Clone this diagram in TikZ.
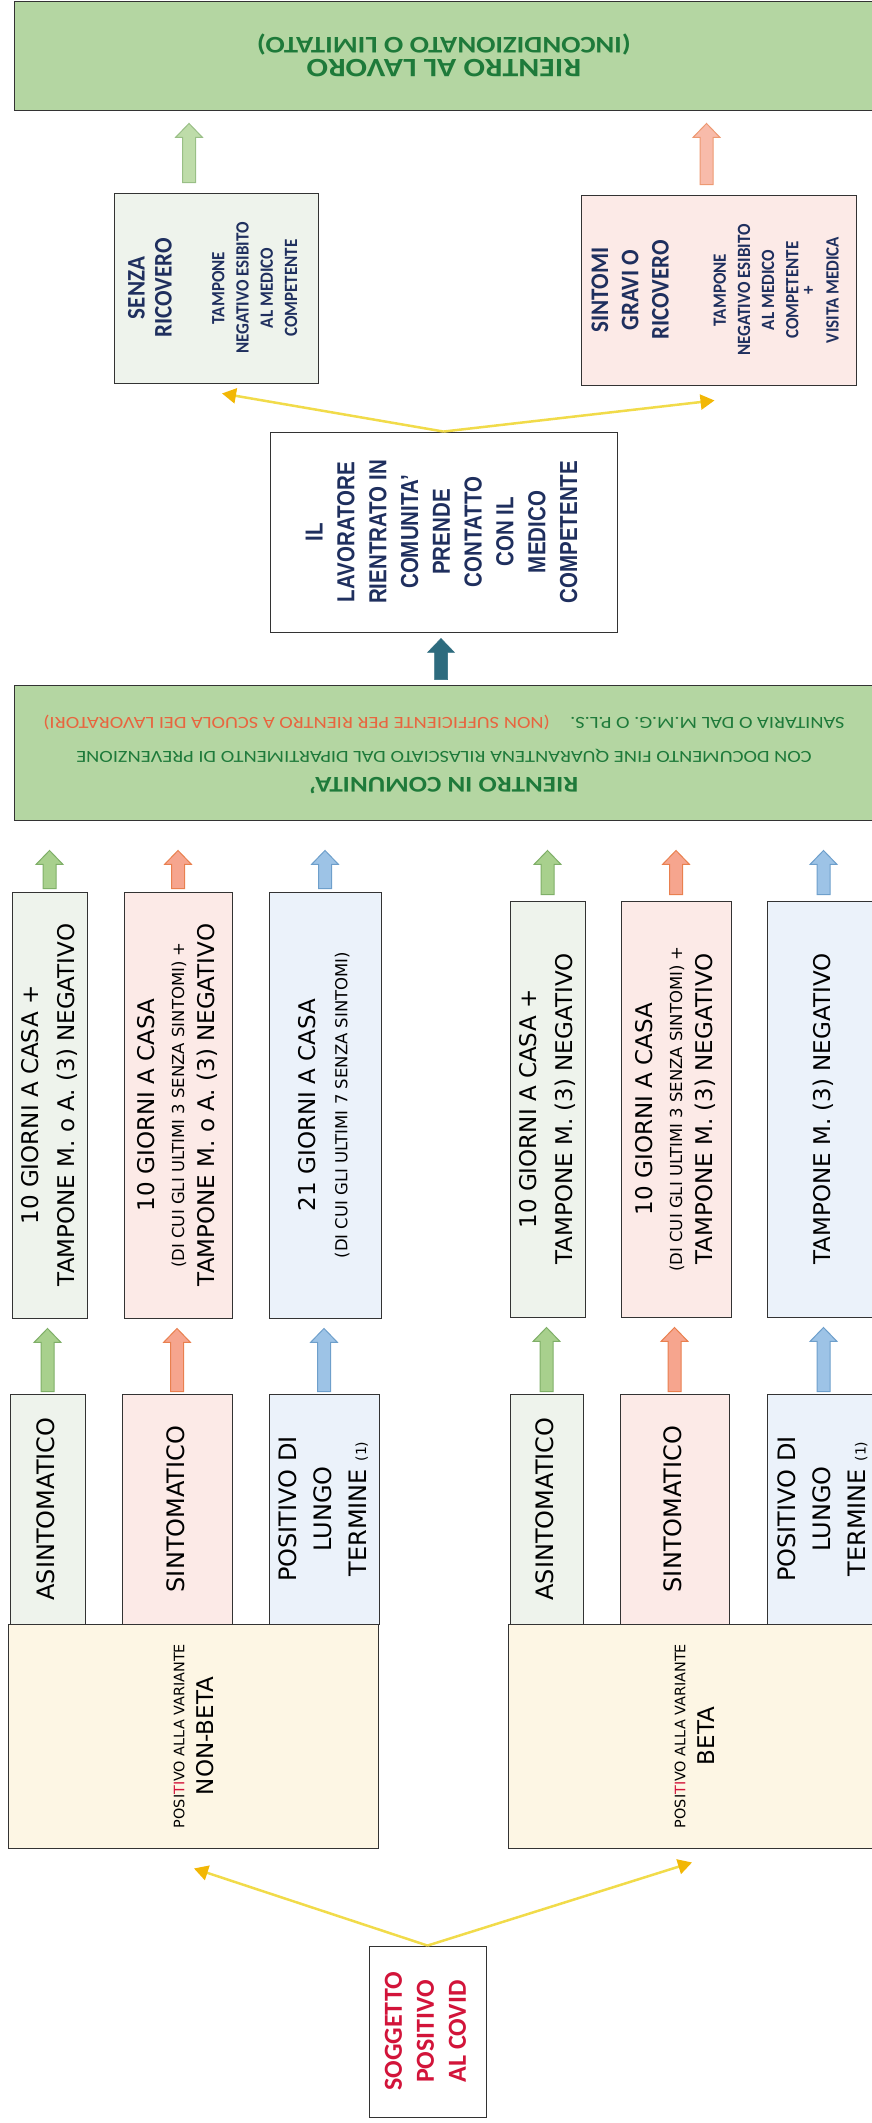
\documentclass[tikz,border=0pt]{standalone}
\usepackage{fontspec}
\usepackage{graphicx}
\usetikzlibrary{calc,arrows.meta}
\newfontfamily\verd{DejaVu Sans}
\newfontfamily\calib{Carlito}
\newfontfamily\arialb{Liberation Sans}

\definecolor{bannergreen}{HTML}{B4D6A2}
\definecolor{bannertext}{HTML}{1E7A3A}
\definecolor{notered}{HTML}{E8653F}
\definecolor{gfill}{HTML}{EEF3EC}
\definecolor{rfill}{HTML}{FCEAE7}
\definecolor{bfill}{HTML}{EBF2FA}
\definecolor{yfill}{HTML}{FDF6E4}
\definecolor{navy}{HTML}{1F2F5E}
\definecolor{covidred}{HTML}{D2143A}
\definecolor{arrgreen}{HTML}{A8D08D}
\definecolor{arrgreenl}{HTML}{7FAF68}
\definecolor{arrred}{HTML}{F6A58E}
\definecolor{arrredl}{HTML}{E9804F}
\definecolor{arrblue}{HTML}{9DC3E6}
\definecolor{arrbluel}{HTML}{6E9FCB}
\definecolor{arrteal}{HTML}{2D6B7E}
\definecolor{ylwline}{HTML}{F1DB4A}
\definecolor{ylwtip}{HTML}{F2B705}

% rotated text, read from bottom to top
\newcommand\vtext[2][1]{\scalebox{#1}[1]{\rotatebox{90}{\begin{tabular}{@{}c@{}}#2\end{tabular}}}}
% upside-down text of the green banners
\newcommand\flipped[1]{\scalebox{-1.2}[-1]{\begin{tabular}{@{}c@{}}#1\end{tabular}}}
% block arrow: style, tail, target, tail gap, tip gap
\newcommand\blockarrow[5]{%
  \draw[#1] ($(#2)+(-6.5,-#4)$) -- ($(#2 |- #3)+(-6.5,#5+14)$) -- ($(#2 |- #3)+(-13.5,#5+14)$)
    -- ($(#2 |- #3)+(0,#5)$) -- ($(#2 |- #3)+(13.5,#5+14)$) -- ($(#2 |- #3)+(6.5,#5+14)$)
    -- ($(#2)+(6.5,-#4)$) -- cycle;}

\tikzset{
  box/.style={draw=black!80, line width=0.9pt, inner sep=0pt},
  banner/.style={box, fill=bannergreen, text=bannertext, minimum width=860pt},
  condbox/.style={box, font={\verd\fontsize{23}{36}\selectfont}},
  symbox/.style={box, font={\verd\fontsize{24}{35}\selectfont}, minimum height=230pt},
  varbox/.style={box, fill=yfill, font={\verd\fontsize{23}{29}\selectfont}, minimum height=224pt},
  yarrow/.style={draw=ylwline, line width=2.5pt, -{Triangle[width=15pt,length=14pt,color=ylwtip]}},
  garr/.style={fill=arrgreen, draw=arrgreenl, line width=1pt},
  rarr/.style={fill=arrred, draw=arrredl, line width=1pt},
  barr/.style={fill=arrblue, draw=arrbluel, line width=1pt},
  gtop/.style={fill=arrgreen!75, draw=arrgreenl!80, line width=1pt},
  rtop/.style={fill=arrred!75, draw=arrredl!80, line width=1pt},
  tarr/.style={fill=arrteal, draw=arrteal, line width=0.5pt}
}

\begin{document}
\begin{tikzpicture}[x=1pt, y=-1pt]
    \useasboundingbox (0,0) rectangle (872,2123);

    % green banners
    \node[banner, minimum height=109pt] (rl) at (444,55.5)
        {\flipped{{\calib\bfseries\fontsize{26.5}{42}\selectfont RIENTRO AL LAVORO}\\
        {\calib\bfseries\fontsize{23.8}{42}\selectfont (INCONDIZIONATO O LIMITATO)}}};
    \node[banner, minimum height=135pt, font={\calib\fontsize{17}{26}\selectfont}] (rc) at (444,752.5)
        {\flipped{{\bfseries\fontsize{22.5}{26}\selectfont RIENTRO IN COMUNITA’}\\
        CON DOCUMENTO FINE QUARANTENA RILASCIATO DAL DIPARTIMENTO DI PREVENZIONE\\[8pt]
        SANITARIA O DAL M.M.G. O P.L.S.\quad{\color{notered}(NON SUFFICIENTE PER RIENTRO A SCUOLA DEI LAVORATORI)}}};

    % return to work
    \node[box, fill=gfill, text=navy, minimum width=204pt, minimum height=190pt,
        font={\calib\bfseries\fontsize{17}{22}\selectfont}] (senza) at (216,288)
        {\vtext[1.1]{{\fontsize{23}{22}\selectfont SENZA}\\[2.5pt]
        {\fontsize{23}{22}\selectfont RICOVERO}\\[26pt]
        TAMPONE\\ NEGATIVO ESIBITO\\ AL MEDICO\\ COMPETENTE}};
    \node[box, fill=rfill, text=navy, minimum width=275pt, minimum height=190pt,
        font={\calib\bfseries\fontsize{17}{22}\selectfont}] (sintomi) at (718.5,290)
        {\vtext[1.1]{{\fontsize{23}{22}\selectfont SINTOMI}\\[5.5pt]
        {\fontsize{23}{22}\selectfont GRAVI O}\\[5.5pt]
        {\fontsize{23}{22}\selectfont RICOVERO}\\[30pt]
        TAMPONE\\ NEGATIVO ESIBITO\\ AL MEDICO\\ COMPETENTE\\[-7.5pt] +\\ VISITA MEDICA}};
    \node[box, fill=white, text=navy, minimum width=347pt, minimum height=200pt,
        font={\arialb\bfseries\fontsize{20.5}{26.5}\selectfont}] (lav) at (443.5,532)
        {\vtext[1.2]{IL\\ LAVORATORE\\ RIENTRATO IN\\ COMUNITA’\\ PRENDE\\ CONTATTO\\ CON IL\\ MEDICO\\ COMPETENTE}};

    % non-beta: conditions
    \node[condbox, fill=gfill, minimum width=75pt, minimum height=426pt] (g1) at (49.5,1105)
        {\vtext{10 GIORNI A CASA +\\ TAMPONE M. o A. (3) NEGATIVO}};
    \node[condbox, fill=rfill, minimum width=108pt, minimum height=426pt,
        font={\verd\fontsize{23}{30}\selectfont}] (r1) at (178,1105)
        {\vtext{10 GIORNI A CASA\\ {\fontsize{16.5}{30}\selectfont (DI CUI GLI ULTIMI 3 SENZA SINTOMI) +}\\
        TAMPONE M. o A. (3) NEGATIVO}};
    \node[condbox, fill=bfill, minimum width=112pt, minimum height=426pt,
        font={\verd\fontsize{23}{32}\selectfont}] (b1) at (325,1105)
        {\vtext{21 GIORNI A CASA\\ {\fontsize{16.5}{32}\selectfont (DI CUI GLI ULTIMI 7 SENZA SINTOMI)}}};

    % beta: conditions
    \node[condbox, fill=gfill, minimum width=75pt, minimum height=416pt] (g2) at (547.5,1109)
        {\vtext{10 GIORNI A CASA +\\ TAMPONE M. (3) NEGATIVO}};
    \node[condbox, fill=rfill, minimum width=110pt, minimum height=416pt,
        font={\verd\fontsize{23}{30}\selectfont}] (r2) at (676,1109)
        {\vtext{10 GIORNI A CASA\\ {\fontsize{16.5}{30}\selectfont (DI CUI GLI ULTIMI 3 SENZA SINTOMI) +}\\
        TAMPONE M. (3) NEGATIVO}};
    \node[condbox, fill=bfill, minimum width=113pt, minimum height=416pt] (b2) at (823.5,1109)
        {\vtext{TAMPONE M. (3) NEGATIVO}};

    % variants
    \node[varbox, minimum width=370pt] (nb) at (193,1736)
        {\vtext{{\fontsize{14.4}{29}\selectfont POSI{\color{covidred}TI}VO ALLA VARIANTE}\\ NON-BETA}};
    \node[varbox, minimum width=372pt] (be) at (694,1736)
        {\vtext{{\fontsize{14.4}{29}\selectfont POSI{\color{covidred}TI}VO ALLA VARIANTE}\\ BETA}};

    % symptoms
    \node[symbox, fill=gfill, minimum width=75pt] (a1) at (47.5,1509) {\vtext{ASINTOMATICO}};
    \node[symbox, fill=rfill, minimum width=110pt] (s1) at (177,1509) {\vtext{SINTOMATICO}};
    \node[symbox, fill=bfill, minimum width=110pt] (p1) at (324,1509)
        {\vtext{POSITIVO DI\\ LUNGO\\ TERMINE {\fontsize{14}{35}\selectfont(1)}}};
    \node[symbox, fill=gfill, minimum width=73pt] (a2) at (546.5,1509) {\vtext{ASINTOMATICO}};
    \node[symbox, fill=rfill, minimum width=109pt] (s2) at (674.5,1509) {\vtext{SINTOMATICO}};
    \node[symbox, fill=bfill, minimum width=113pt] (p2) at (823.5,1509)
        {\vtext{POSITIVO DI\\ LUNGO\\ TERMINE {\fontsize{14}{35}\selectfont(1)}}};

    % start
    \node[box, fill=white, text=covidred, minimum width=117pt, minimum height=171pt,
        font={\calib\bfseries\fontsize{26}{32}\selectfont}] (sog) at (427.5,2031.5)
        {\vtext{SOGGETTO\\ POSITIVO\\ AL COVID}};

    % yellow arrows
    \draw[yarrow] (sog.north) -- ($(nb.south)+(1,20)$);
    \draw[yarrow] (sog.north) -- ($(be.south)+(-2,14)$);
    \draw[yarrow] (lav.north) -- ($(senza.south)+(6,10)$);
    \draw[yarrow] (lav.north) -- ($(sintomi.south)+(-4,15)$);

    % block arrows
    \blockarrow{garr}{a1.north}{g1.south}{2}{10}
    \blockarrow{rarr}{s1.north}{r1.south}{2}{10}
    \blockarrow{barr}{p1.north}{b1.south}{2}{10}
    \blockarrow{garr}{a2.north}{g2.south}{2}{10}
    \blockarrow{rarr}{s2.north}{r2.south}{2}{10}
    \blockarrow{barr}{p2.north}{b2.south}{2}{10}

    \blockarrow{garr}{g1.north}{rc.south}{3}{30}
    \blockarrow{rarr}{r1.north}{rc.south}{3}{30}
    \blockarrow{barr}{b1.north}{rc.south}{3}{30}
    \blockarrow{garr}{g2.north}{rc.south}{6}{30}
    \blockarrow{rarr}{r2.north}{rc.south}{6}{30}
    \blockarrow{barr}{b2.north}{rc.south}{6}{30}

    \coordinate (rcn) at ($(rc.north)+(-3,0)$);
    \blockarrow{tarr}{rcn}{lav.south}{5}{6}

    \coordinate (sz) at ($(senza.north)+(-27,0)$);
    \coordinate (si) at ($(sintomi.north)+(-12,0)$);
    \blockarrow{gtop}{sz}{rl.south}{10}{13}
    \blockarrow{rtop}{si}{rl.south}{10}{13}
\end{tikzpicture}
\end{document}
